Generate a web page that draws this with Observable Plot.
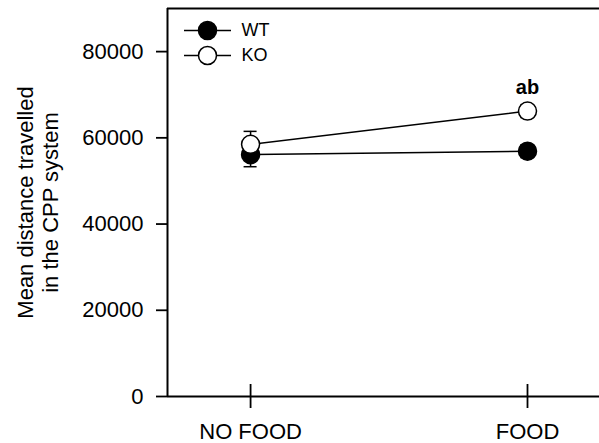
<!DOCTYPE html>
<html>
<head>
<meta charset="utf-8">
<script src="https://cdn.jsdelivr.net/npm/d3@7"></script>
<script src="https://cdn.jsdelivr.net/npm/@observablehq/plot@0.6"></script>
<style>
  html, body { margin: 0; padding: 0; background: white; }
</style>
</head>
<body>
<div id="chart"></div>
<script>
// ---- data ----
const categories = ["NO FOOD", "FOOD"];
const groups = ["WT", "KO"];
const groupFill = ["black", "white"];
const wtMean = [56100, 56900];
const wtSem  = [2800, 1500];
const koMean = [58500, 66200];
const koSem  = [3000, 1500];
const yTicks = [0, 20000, 40000, 60000, 80000];
const annotations = [{ group: "KO", category: "FOOD", label: "ab" }];
const yLabel = "Mean distance travelled\nin the CPP system";

// ---- build table ----
const means = { WT: wtMean, KO: koMean };
const sems = { WT: wtSem, KO: koSem };
const data = [];
groups.forEach((g, gi) => categories.forEach((c, i) => data.push({
  group: g, category: c, xi: i, mean: means[g][i], sem: sems[g][i], fill: groupFill[gi]
})));
const annData = annotations.map(a => ({ ...a, xi: categories.indexOf(a.category), mean: means[a.group][categories.indexOf(a.category)] }));

const xDomain = [-0.3, 1.26];
const yDomain = [0, 90000];

const hline = {
  draw(ctx, size) {
    const r = Math.sqrt(size / Math.PI);
    ctx.moveTo(-r, 0); ctx.lineTo(r, 0);
  }
};

const legendMarks = groups.flatMap((g, i) => [
  Plot.dot([g], { frameAnchor: "top-left", dx: 40, dy: 22 + i * 25, symbol: hline, r: 23.5, stroke: "black", strokeWidth: 1.5 }),
  Plot.dot([g], { frameAnchor: "top-left", dx: 40, dy: 22 + i * 25, r: 9, fill: groupFill[i], stroke: "black", strokeWidth: 1.5 }),
  Plot.text([g], { frameAnchor: "top-left", dx: 74, dy: 22 + i * 25, text: d => d, textAnchor: "start", lineAnchor: "middle", fontSize: 18 })
]);

const chart = Plot.plot({
  width: 599,
  height: 443,
  marginLeft: 167,
  marginRight: 0,
  marginTop: 8,
  marginBottom: 47,
  style: { fontFamily: "'Liberation Sans', Arial, sans-serif", background: "white", color: "black", overflow: "visible" },
  x: { type: "linear", domain: xDomain },
  y: { domain: yDomain },
  color: { type: "identity" },
  marks: [
    Plot.axisY(yTicks, { tickSize: 11, tickPadding: 13, fontSize: 22, tickFormat: d => String(d), label: null, strokeWidth: 1.8 }),
    Plot.axisX([0, 1], { tickSize: 24, dy: -12, tickPadding: 15, fontSize: 22, tickFormat: i => categories[i], label: null, strokeWidth: 1.8 }),
    Plot.ruleX([xDomain[0]], { strokeWidth: 2 }),
    Plot.ruleY([yDomain[0]], { strokeWidth: 2 }),
    Plot.ruleY([yDomain[1]], { strokeWidth: 2 }),
    Plot.text([yLabel], { frameAnchor: "left", dx: -130, rotate: -90, fontSize: 22, lineHeight: 1.16, textAnchor: "middle", lineAnchor: "middle", text: d => d }),
    Plot.line(data, { x: "xi", y: "mean", z: "group", stroke: "black", strokeWidth: 1.5 }),
    Plot.ruleX(data, { x: "xi", y1: d => d.mean - d.sem, y2: d => d.mean + d.sem, strokeWidth: 1.5 }),
    Plot.ruleY(data, { x1: "xi", x2: "xi", y: d => d.mean + d.sem, insetLeft: -6.5, insetRight: -6.5, strokeWidth: 1.5 }),
    Plot.ruleY(data, { x1: "xi", x2: "xi", y: d => d.mean - d.sem, insetLeft: -6.5, insetRight: -6.5, strokeWidth: 1.5 }),
    Plot.dot(data, { x: "xi", y: "mean", r: 9, fill: "fill", stroke: "black", strokeWidth: 1.5 }),
    Plot.text(annData, { x: "xi", y: "mean", text: "label", dy: -17, lineAnchor: "bottom", fontWeight: "bold", fontSize: 20 }),
    ...legendMarks
  ]
});
document.getElementById("chart").appendChild(chart);
</script>
</body>
</html>
